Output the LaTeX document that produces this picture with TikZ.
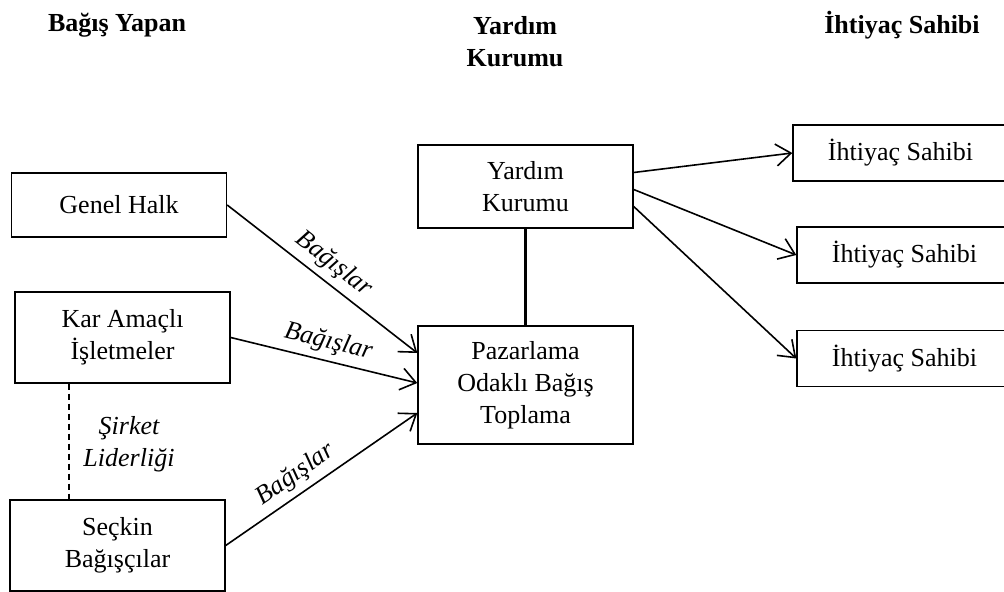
\documentclass[tikz,border=0pt]{standalone}
\usepackage{fontspec}
\setmainfont{Liberation Serif}
\usetikzlibrary{arrows.meta}
\begin{document}
\fontsize{13pt}{16pt}\selectfont
\begin{tikzpicture}[x=0.5pt,y=-0.5pt,
  box/.style={draw, line width=0.7pt, minimum width=107.5pt, align=center,
    inner sep=2pt, font=\fontsize{13pt}{16pt}\selectfont},
  head/.style={align=center, font=\fontsize{13pt}{16pt}\selectfont\bfseries},
  flow/.style={line width=0.8pt, -{Straight Barb[length=7.5pt,width=11pt,line width=0.8pt]}},
  lbl/.style={font=\fontsize{13pt}{16pt}\selectfont\itshape, sloped, above, inner sep=3pt}]
\clip (0,0) rectangle (1004,592);
\fill[white] (0,0) rectangle (1004,592);

% column headings
\node[head] (h1) at (117,25) {Bağış Yapan};
\node[head] (h2) at (515,42) {Yardım\\Kurumu};
\node[head] (h3) at (902,25) {İhtiyaç Sahibi};

% donors
\node[box, minimum height=32pt] (gh) at (119,205) {Genel Halk};
\node[box, minimum height=45.5pt] (kar) at (122.5,337.5) {Kar Amaçlı\\İşletmeler};
\node[box, minimum height=45.5pt] (sec) at (117.5,545.5) {Seçkin\\Bağışçılar};

% charity and fundraising
\node[box, minimum height=41.5pt] (yk) at (525.5,186.5) {Yardım\\Kurumu};
\node[box, minimum height=59pt] (pz) at (525.5,385) {Pazarlama\\Odaklı Bağış\\Toplama};

% recipients
\node[box, minimum height=28pt] (i1) at (900.5,153) {İhtiyaç Sahibi};
\node[box, minimum height=28pt] (i2) at (904.5,255) {İhtiyaç Sahibi};
\node[box, minimum height=28pt] (i3) at (904.5,358.5) {İhtiyaç Sahibi};

% donations
\draw[flow] (gh.east) -- node[lbl] {Bağışlar} ([yshift=16pt]pz.west);
\draw[flow] (kar.east) -- node[lbl] {Bağışlar} ([yshift=1pt]pz.west);
\draw[flow] (sec.east) -- node[lbl, pos=0.42] {Bağışlar} ([yshift=-14pt]pz.west);

% leadership link
\draw[dashed, dash pattern=on 3pt off 2pt, line width=0.7pt]
  ([xshift=-26.75pt]kar.south) coordinate (d1) -- (d1 |- sec.north);
\node[font=\fontsize{13pt}{16pt}\selectfont\itshape, align=center] (sl) at (129,444) {Şirket\\Liderliği};

% charity to fundraising
\draw[line width=1.4pt] (yk.south) -- (pz.north);

% charity to recipients
\draw[flow] ([yshift=7pt]yk.east) -- (i1.west);
\draw[flow] ([yshift=-1.5pt]yk.east) -- (i2.west);
\draw[flow] ([yshift=-10pt]yk.east) -- (i3.west);
\end{tikzpicture}
\end{document}
